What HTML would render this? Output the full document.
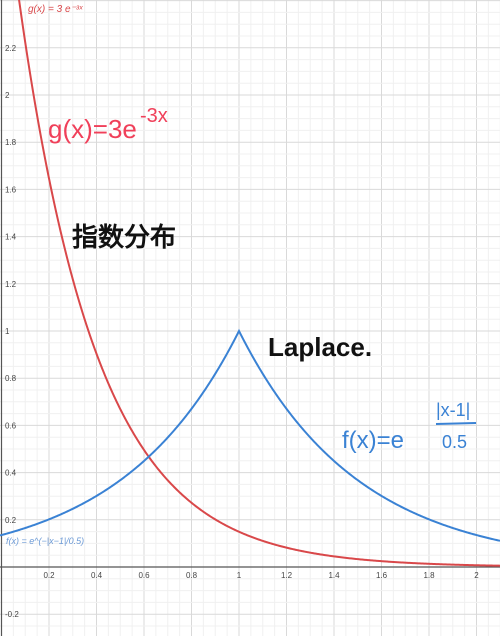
<!DOCTYPE html>
<html><head><meta charset="utf-8"><style>
html,body{margin:0;padding:0;background:#fff;width:500px;height:636px;overflow:hidden}
svg{display:block}
text{font-family:"Liberation Sans",sans-serif}
</style></head><body>
<svg id="c" width="500" height="636"></svg>
<script>
const xTicks=[0.2,0.4,0.6,0.8,1,1.2,1.4,1.6,1.8,2];
const yTicks=[-0.2,0.2,0.4,0.6,0.8,1,1.2,1.4,1.6,1.8,2,2.2];
const gA=[3], gK=[-3];
const fMu=[1], fB=[0.5];
const X0=1.5,Y0=567,SX=237.5,SY=236;
const sx=v=>X0+v*SX, sy=v=>Y0-v*SY;
const svg=document.getElementById('c');const NS='http://www.w3.org/2000/svg';
function mk(t,a,p){const e=document.createElementNS(NS,t);for(const k in a)e.setAttribute(k,a[k]);(p||svg).appendChild(e);return e;}
const grid=mk('g',{});


for(let i=-1;i<=50;i++){const x=sx(i*0.05);mk('line',{x1:x,x2:x,y1:0,y2:636,stroke:i%4==0?'#d9d9d9':'#f0f0f0','stroke-width':1},grid);}
for(let i=-14;i<=50;i++){const y=sy(i*0.05);mk('line',{x1:0,x2:500,y1:y,y2:y,stroke:i%4==0?'#d9d9d9':'#f0f0f0','stroke-width':1},grid);}
const xa=mk('line',{x1:0,x2:500,y1:Y0,y2:Y0,stroke:'#555','stroke-width':1.2});


const ya=mk('line',{x1:X0,x2:X0,y1:0,y2:636,stroke:'#555','stroke-width':1.2});


xTicks.forEach(v=>{const t=mk('text',{x:sx(v),y:Y0+11,'font-size':8,'text-anchor':'middle',fill:'#444'});t.textContent=v;

});
yTicks.forEach(v=>{const t=mk('text',{x:5,y:sy(v)+3,'font-size':8,fill:'#444'});t.textContent=v;

});
function path(fn,col,name){let d='';for(let px=0;px<=500;px+=1){const x=(px-X0)/SX;const y=fn(x);d+=(d?'L':'M')+px+','+sy(y).toFixed(2);}
const p=mk('path',{d:d,fill:'none',stroke:col,'stroke-width':2});

}
path(x=>gA[0]*Math.exp(gK[0]*x),'#d9484a','curve-g');
path(x=>Math.exp(-Math.abs(x-fMu[0])/fB[0]),'#3a82d4','curve-f');
function txt(s,a,name){const t=mk('text',a);t.textContent=s;

return t;}
txt('g(x) = 3 e⁻³ˣ',{x:28,y:12,'font-size':10,fill:'#d9484a','font-style':'italic','font-family':'Liberation Serif,serif'},'label-g');
txt('f(x) = e^(−|x−1|/0.5)',{x:6,y:544,'font-size':9,fill:'#6c9ad6','font-style':'italic','font-family':'Liberation Serif,serif'},'label-f');
txt('g(x)=3e',{x:48,y:138,'font-size':26,fill:'#f0405a','font-family':'DejaVu Sans,sans-serif'},'handwritten-g');
txt('-3x',{x:140,y:122,'font-size':20,fill:'#f0405a'},'handwritten-g-exp');
txt('指数分布',{x:72,y:246,'font-size':26,fill:'#111','font-weight':'bold','font-family':'Noto Sans CJK SC,sans-serif'},'handwritten-exponential');
txt('Laplace.',{x:268,y:356,'font-size':26,fill:'#111','font-weight':'bold'},'handwritten-laplace');
txt('f(x)=e',{x:342,y:448,'font-size':24,fill:'#3a82d4'},'handwritten-f');
txt('|x-1|',{x:436,y:416,'font-size':18,fill:'#3a82d4'},'handwritten-f-num');
mk('line',{x1:436,x2:476,y1:424,y2:423,stroke:'#3a82d4','stroke-width':2});
txt('0.5',{x:442,y:448,'font-size':18,fill:'#3a82d4'},'handwritten-f-den');
</script>
</body></html>
